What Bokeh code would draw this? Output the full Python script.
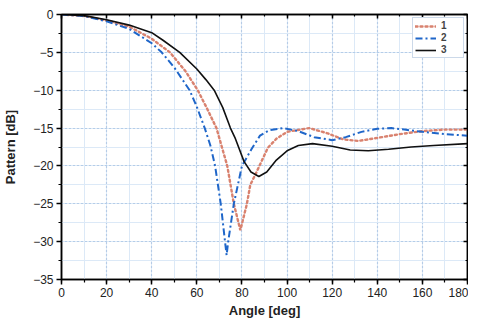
from bokeh.plotting import figure
from bokeh.models import LinearAxis, Range1d, FixedTicker, Legend, LegendItem
from bokeh.embed import file_html
from bokeh.resources import INLINE

# Series 1 (red dotted)
ang1 = [0, 10, 20, 30, 40, 48.1, 55, 60.4, 64.5, 68.7, 73.5, 76.4, 79.3, 82.2, 83.7, 86.5, 88.5, 91.5, 95.3, 100, 109.8, 118, 125, 131.6, 140, 150, 160, 170, 180]
pat1 = [0, -0.2, -0.8, -1.6, -3.2, -5.0, -7.5, -10.0, -12.4, -15.0, -20.0, -25.0, -28.5, -25.0, -22.5, -20.8, -19.5, -17.6, -16.4, -15.5, -15.0, -15.7, -16.5, -16.7, -16.3, -15.8, -15.4, -15.2, -15.2]

# Series 2 (blue dash-dot)
ang2 = [0, 10, 20, 30, 40, 44.4, 50, 56.8, 60, 63.5, 66, 68.1, 70.6, 72.5, 73.2, 73.9, 76.4, 80, 84.4, 88, 92, 98.2, 105, 112, 120, 126, 133, 140, 146.2, 152, 160, 170, 180]
pat2 = [0, -0.2, -0.9, -1.9, -3.8, -5.0, -7.0, -10.0, -12.2, -15.0, -17.3, -20.0, -25.0, -30.0, -31.8, -30.0, -25.0, -20.0, -17.7, -16.0, -15.3, -15.0, -15.4, -16.2, -16.6, -16.2, -15.5, -15.1, -15.0, -15.2, -15.5, -15.8, -16.0]

# Series 3 (black solid)
ang3 = [0, 10, 20, 30, 40, 45, 52.4, 60, 64, 67.7, 71.5, 74.9, 77.1, 80.9, 84, 87.5, 91, 95, 100, 105, 111.3, 120, 128, 136, 145, 155, 165, 180]
pat3 = [0, -0.15, -0.7, -1.4, -2.4, -3.4, -5.0, -7.2, -8.6, -10.0, -12.3, -15.0, -16.4, -19.4, -20.8, -21.4, -20.8, -19.3, -18.0, -17.3, -17.05, -17.4, -17.9, -18.0, -17.8, -17.5, -17.3, -17.05]

x_ticks = [0, 20, 40, 60, 80, 100, 120, 140, 160, 180]
x_minor = list(range(0, 181, 10))
y_ticks = [0, -5, -10, -15, -20, -25, -30, -35]
y_minor = [-35 + 2.5 * i for i in range(15)]
names = ["1", "2", "3"]

FONT = "Liberation Sans"

p = figure(width=468, height=320, output_backend="svg", toolbar_location=None,
           x_range=Range1d(0, 180), y_range=Range1d(-35, 0),
           min_border_left=61, min_border_right=1, min_border_top=14, min_border_bottom=38,
           background_fill_color="white", border_fill_color="white")

p.outline_line_color = "black"
p.outline_line_width = 1.5

for ax in (p.xaxis[0], p.yaxis[0]):
    ax.axis_line_width = 1.5
    ax.major_tick_line_width = 1.5
    ax.minor_tick_line_width = 1.2
    ax.major_tick_out = 5
    ax.major_tick_in = 0
    ax.minor_tick_out = 3
    ax.minor_tick_in = 0
    ax.major_label_text_font = FONT
    ax.major_label_text_font_size = "12px"
    ax.major_label_text_color = "#222222"
    ax.axis_label_text_font = FONT
    ax.axis_label_text_font_size = "13px"
    ax.axis_label_text_font_style = "bold"
    ax.axis_label_text_color = "#222222"

p.xaxis[0].ticker = FixedTicker(ticks=x_ticks, minor_ticks=x_minor)
p.yaxis[0].ticker = FixedTicker(ticks=y_ticks, minor_ticks=y_minor)
p.xaxis[0].axis_label = "Angle [deg]"
p.yaxis[0].axis_label = "Pattern [dB]"
p.xaxis[0].major_label_standoff = 3
p.xaxis[0].axis_label_standoff = 3
p.yaxis[0].major_label_standoff = 3
p.yaxis[0].axis_label_standoff = 12

# top and right axes (inward ticks only)
top = LinearAxis(ticker=FixedTicker(ticks=x_ticks, minor_ticks=x_minor))
right = LinearAxis(ticker=FixedTicker(ticks=y_ticks, minor_ticks=y_minor))
for ax in (top, right):
    ax.axis_line_width = 1.5
    ax.major_tick_line_width = 1.5
    ax.minor_tick_line_width = 1.2
    ax.major_tick_in = 4
    ax.major_tick_out = 0
    ax.minor_tick_in = 2
    ax.minor_tick_out = 0
    ax.major_label_text_font_size = "1px"
    ax.major_label_text_color = None
    ax.major_label_standoff = 0
p.add_layout(top, "above")
p.add_layout(right, "right")

# grids
for g in (p.xgrid[0], p.ygrid[0]):
    g.grid_line_color = "#8fb0d8"
    g.grid_line_dash = "1 3"
    g.grid_line_width = 1.2
    g.minor_grid_line_color = "#dce9f7"
    g.minor_grid_line_width = 1.0
p.xgrid[0].ticker = p.xaxis[0].ticker
p.ygrid[0].ticker = p.yaxis[0].ticker

r1 = p.line(ang1, pat1, line_color="#d9826f", line_width=2.4, line_dash="2 3", line_cap="round")
r2 = p.line(ang2, pat2, line_color="#1f66c9", line_width=2.0, line_dash="7 3 2 3")
r3 = p.line(ang3, pat3, line_color="#111111", line_width=1.6)

legend = Legend(items=[LegendItem(label=names[0], renderers=[r1]),
                       LegendItem(label=names[1], renderers=[r2]),
                       LegendItem(label=names[2], renderers=[r3])],
                location="top_right")
legend.label_text_font = FONT
legend.label_text_font_size = "10px"
legend.label_text_font_style = "bold"
legend.label_text_color = "#444444"
legend.glyph_width = 21
legend.glyph_height = 10
legend.label_height = 10
legend.label_standoff = 5
legend.spacing = 1
legend.padding = 2
legend.margin = 3
legend.border_line_color = "#9ab3d3"
legend.border_line_width = 1
legend.background_fill_alpha = 1.0
p.add_layout(legend)

open("out.html", "w").write(file_html(p, INLINE))
